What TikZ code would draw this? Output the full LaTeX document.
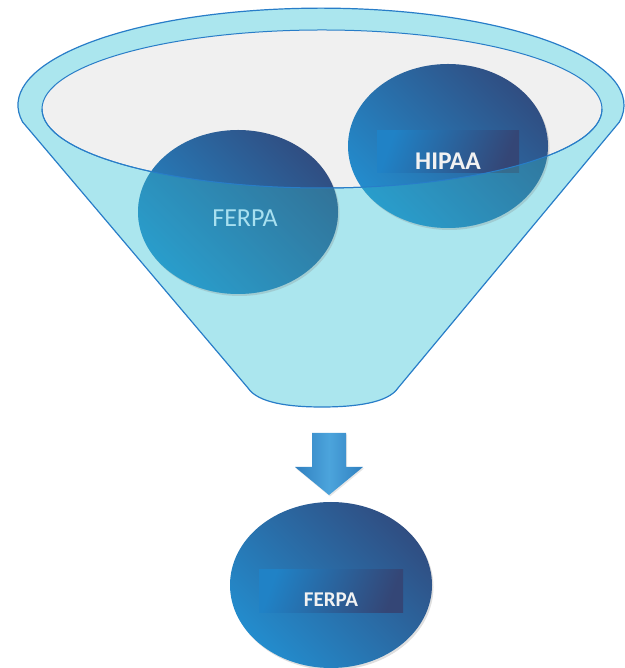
\documentclass[tikz,border=0pt]{standalone}
\usepackage{fontspec}
\setmainfont{Carlito}
\definecolor{funnelcolor}{RGB}{171,230,238}
\definecolor{rimcolor}{RGB}{40,125,200}
\definecolor{bowlcolor}{RGB}{240,240,240}
\definecolor{balllight}{RGB}{35,140,205}
\definecolor{balldark}{RGB}{48,78,130}
\definecolor{barlight}{RGB}{32,130,198}
\definecolor{bardark}{RGB}{52,70,118}
\definecolor{arrowedge}{RGB}{48,128,192}
\definecolor{arrowmid}{RGB}{76,164,220}
\definecolor{tintcolor}{RGB}{58,197,200}
\definecolor{lettercolor}{RGB}{168,224,240}
\usetikzlibrary{shapes,shadows,positioning}
\tikzset{
	rim/.style={
		draw=rimcolor,
		line width=1.2pt
	},
	ball/.style={
		ellipse,
		inner sep=0pt,
		minimum width=200pt,
		minimum height=164pt,
		top color=balldark,
		bottom color=balllight,
		shading angle=-45,
		drop shadow={shadow xshift=1.5pt,shadow yshift=-2pt,opacity=0.25}
	},
	bar/.style={
		rectangle,
		inner sep=0pt,
		minimum width=142pt,
		minimum height=42pt,
		left color=barlight,
		right color=bardark,
		shading angle=70
	},
	barlabel/.style={
		anchor=base,
		text=white!95!black,
		font=\bfseries\fontsize{#1}{#1}\selectfont
	},
	blockarrow/.style={
		left color=arrowedge,
		right color=arrowedge,
		middle color=arrowmid,
		drop shadow={shadow xshift=1pt,shadow yshift=-1.5pt,opacity=0.2}
	}
}
\newcommand{\funnelbody}{(22.6,546) arc[start angle=190,end angle=-10,x radius=303,y radius=97]
	-- (398,280) .. controls (388,265) and (355,261) .. (322,261)
	.. controls (289,261) and (258,265) .. (248,280) -- cycle}

\begin{document}
\begin{tikzpicture}[x=1pt,y=1pt]
	\useasboundingbox (0,0) rectangle (624,668);
	% funnel and bowl
	\fill[funnelcolor] \funnelbody;
	\draw[rim] \funnelbody;
	\draw[rim,line width=1pt,fill=bowlcolor] (322,559) ellipse[x radius=280,y radius=79];
	
	\node[ball] (ferpa) at (238,456) {};
	\node[ball] (hipaa) at (448,522) {};
	\node[bar] (hipaabar) at (448,516) {};
	\node[barlabel=25.5] at ([yshift=4pt]hipaabar.south) {HIPAA};
	
	% front of the funnel over the balls
	\begin{scope}
		\clip \funnelbody;
		\clip (42,559) arc[start angle=180,end angle=360,x radius=280,y radius=79] -- (602,0) -- (42,0) -- cycle;
		\fill[tintcolor,fill opacity=0.3] (ferpa.center) ellipse[x radius=100,y radius=82];
		\fill[tintcolor,fill opacity=0.3] (hipaa.center) ellipse[x radius=100,y radius=82];
	\end{scope}
	\draw[rim,line width=1pt] (42,559) arc[start angle=180,end angle=360,x radius=280,y radius=79];
	\node[anchor=base,text=lettercolor,font=\fontsize{26}{26}\selectfont] at ([xshift=7pt,yshift=-15pt]ferpa.center) {FERPA};
	
	% result
	\shade[blockarrow] (312,235) -- (346,235) -- (346,201) -- (363,201) -- (329,173) -- (295,201) -- (312,201) -- cycle;
	\node[ball,minimum width=202pt,minimum height=166pt] (result) at (331,83) {};
	\node[bar,minimum width=144pt,minimum height=43pt] (resultbar) at (331,76.5) {};
	\node[barlabel=21] at ([yshift=7pt]resultbar.south) {FERPA};
\end{tikzpicture}
\end{document}
